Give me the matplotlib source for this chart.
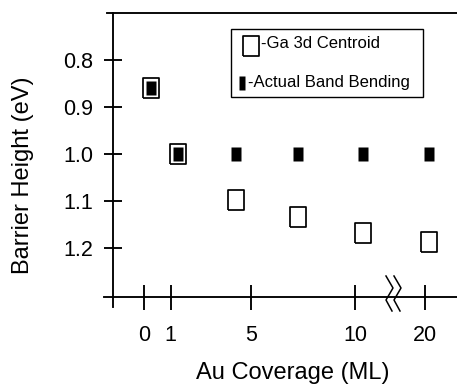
import matplotlib
matplotlib.use('Agg')
import matplotlib.pyplot as plt
import numpy as np
from matplotlib.patches import Rectangle

plt.rcParams['font.family'] = ['Liberation Sans', 'DejaVu Sans']

# --- Data ---
coverage = [0.27, 1.36, 4.25, 7.26, 10.38, 20.2]          # Au coverage (ML)
ga3d_centroid = [0.86, 1.00, 1.097, 1.133, 1.168, 1.186]   # eV
band_bending = [0.86, 1.00, 1.00, 1.00, 1.00, 1.00]        # eV

x_ticks = [0, 1, 5, 10, 20]
y_ticks = [0.8, 0.9, 1.0, 1.1, 1.2]
y_ticklabels = ['0.8', '0.9', '1.0', '1.1', '1.2']

# Broken coverage axis: piecewise-linear, squeezed between 12 and 18.6
brk_data = [-10, 0, 1, 5, 10, 12, 18.6, 20, 40]
brk_pos = [-12.7, 0, 1.27, 5.13, 10.13, 12.13, 12.17, 13.49, 33.49]


def fwd(x):
    return np.interp(x, brk_data, brk_pos)


def inv(p):
    return np.interp(p, brk_pos, brk_data)


# rectangular markers (a bit taller than wide)
def rect(ratio):
    w = 0.5 * ratio
    return [(-w, -0.5), (w, -0.5), (w, 0.5), (-w, 0.5), (-w, -0.5)]


W, H = 457, 386
LW = 1.35
fig = plt.figure(figsize=(W / 100, H / 100), dpi=100)
ax = fig.add_axes([113 / W, 1 - 297 / H, 344 / W, 284 / H])

ax.set_xscale('function', functions=(fwd, inv))
ax.set_xlim(-1.185, 21.53)
ax.set_ylim(1.303, 0.700)

ax.plot(coverage, ga3d_centroid, linestyle='none', marker=rect(0.86),
        markersize=14, markerfacecolor='white', markeredgecolor='black',
        markeredgewidth=1.25, zorder=3)
ax.plot(coverage, band_bending, linestyle='none', marker=rect(0.78),
        markersize=10, markerfacecolor='black', markeredgecolor='none',
        zorder=4)

# axes frame drawn by hand: long top/bottom rules, left rule past the bottom
for s in ax.spines.values():
    s.set_visible(False)
lk = dict(color='black', linewidth=LW, transform=ax.transAxes, clip_on=False)
ax.plot([-6 / 344, 1], [1, 1], **lk)
ax.plot([-9 / 344, 1], [0, 0], **lk)
ax.plot([0, 0], [-10 / 284, 1], **lk)

ax.set_xticks(x_ticks)
ax.set_xticklabels([str(t) for t in x_ticks])
ax.xaxis.set_minor_locator(matplotlib.ticker.NullLocator())
ax.set_yticks(y_ticks)
ax.set_yticklabels(y_ticklabels)
ax.tick_params(axis='x', direction='inout', length=18, width=LW,
               labelsize=15.5, pad=11)
ax.tick_params(axis='y', direction='inout', length=12.5, width=LW,
               labelsize=15.5, pad=8)

# axis break symbol
zig = np.array([(386, 276), (393, 288), (386, 300), (392, 311)], float)
for shift in (0, 8):
    xs = (zig[:, 0] + shift - 113) / 344
    ys = (297 - zig[:, 1]) / 284
    ax.plot(xs, ys, color='black', linewidth=1.1, transform=ax.transAxes,
            clip_on=False, zorder=5)

# legend box
ax.add_patch(Rectangle(((230.7 - 113) / 344, (297 - 96.7) / 284),
                       192 / 344, 67.4 / 284, transform=ax.transAxes,
                       facecolor='white', edgecolor='black', linewidth=1.0,
                       zorder=6))
ax.plot([(251 - 113) / 344], [(297 - 46) / 284], transform=ax.transAxes,
        marker=rect(0.86), markersize=14, markerfacecolor='white',
        markeredgecolor='black', markeredgewidth=1.25, zorder=7)
ax.plot([(242 - 113) / 344], [(297 - 82.5) / 284], transform=ax.transAxes,
        marker=rect(0.45), markersize=9.6, markerfacecolor='black',
        markeredgecolor='none', zorder=7)
ax.text((261 - 113) / 344, (297 - 44) / 284, '-Ga 3d Centroid',
        transform=ax.transAxes, fontsize=12, ha='left', va='center', zorder=8)
ax.text((247.7 - 113) / 344, (297 - 82) / 284, '-Actual Band Bending',
        transform=ax.transAxes, fontsize=12, ha='left', va='center', zorder=8)

fig.text(293 / W, 1 - 379 / H, 'Au Coverage (ML)', fontsize=17,
         ha='center', va='baseline')
fig.text(23 / W, 1 - 175 / H, 'Barrier Height (eV)', fontsize=17,
         ha='center', va='center', rotation=90)

fig.savefig('out.png', dpi=100)
